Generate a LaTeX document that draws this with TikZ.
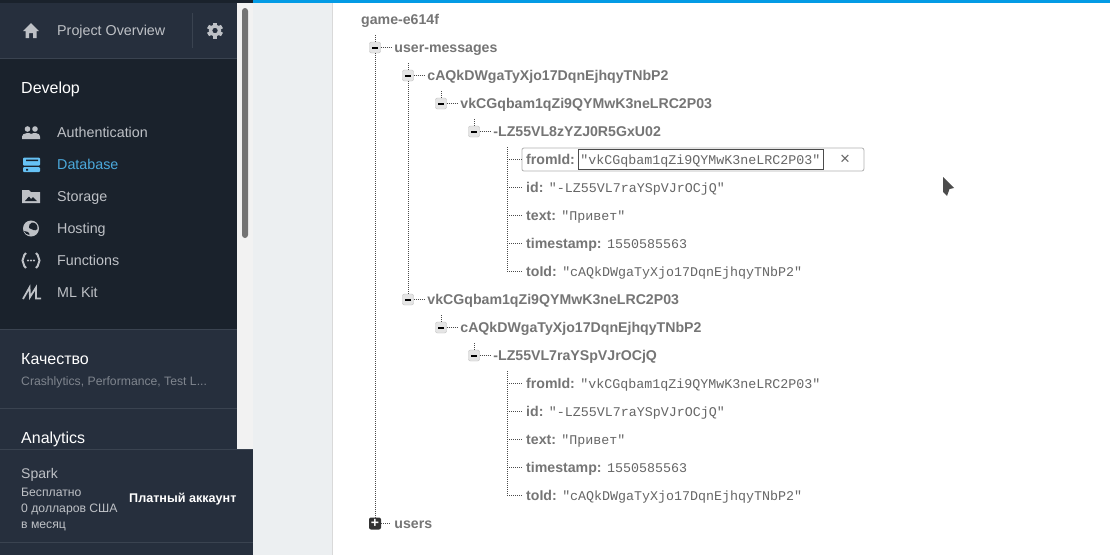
\documentclass[tikz,border=0pt]{standalone}
\usepackage{fontspec}
\setmainfont{Liberation Sans}
\setmonofont{Liberation Mono}
\usetikzlibrary{positioning}
\definecolor{sidedark}{HTML}{1A222C}
\definecolor{sidelight}{HTML}{262F3D}
\definecolor{sideline}{HTML}{3A4350}
\definecolor{sidetext}{HTML}{BEC1C6}
\definecolor{dimtext}{HTML}{7F858E}
\definecolor{dbblue}{HTML}{4BA9DC}
\definecolor{dbicon}{HTML}{66C2F5}
\definecolor{pagegray}{HTML}{ECEFF1}
\definecolor{keygray}{HTML}{757575}
\definecolor{valgray}{HTML}{666666}
\definecolor{treeline}{HTML}{4A4A4A}
\definecolor{topblue}{HTML}{039BE5}

\begin{document}
\begin{tikzpicture}[x=1pt,y=-1pt,
sideitem/.style ={anchor=west, inner sep=0pt, text height=12pt, text depth=2pt, text=sidetext, font=\fontsize{14.3}{16}\selectfont},
sidehead/.style ={anchor=west, inner sep=0pt, text height=12.5pt, text depth=2pt, text=white, font=\fontsize{16}{18}\selectfont},
sidesmall/.style ={anchor=west, inner sep=0pt, text height=11pt, text depth=2pt, text=sidetext, font=\fontsize{12.2}{14}\selectfont},
icon/.style ={fill=sidetext, draw=none},
expbox/.style ={rectangle, rounded corners=2pt, minimum size=11pt, inner sep=0pt, draw=black!25, fill=black!10},
plusbox/.style ={rectangle, rounded corners=2pt, minimum size=12pt, inner sep=0pt, fill=black!80, text=white, font=\fontsize{14}{14}\selectfont\bfseries},
keylbl/.style ={inner sep=0pt, text height=12.5pt, text depth=2pt, text=keygray, font=\fontsize{14.15}{16}\selectfont\bfseries},
vallbl/.style ={inner sep=0pt, text=valgray, font=\fontsize{13.33}{16}\selectfont\ttfamily},
tree/.style ={draw=treeline, line width=0.8pt, dash pattern=on 1pt off 1pt}]
\useasboundingbox (0,0) rectangle (1110,555);
% page and side bar
\fill[white] (0,0) rectangle (1110,555);
\fill[pagegray] (237,0) rectangle (332,555);
\fill[black!5] (237,0) rectangle (253,555);
\draw[black!15] (332,0) -- (332,555);
\fill[sidedark] (0,0) rectangle (237,555);
\fill[sidelight] (0,3) rectangle (237,58);
\fill[sidelight] (0,329) rectangle (237,450);
\fill[sidelight] (0,449) rectangle (253,555);
\draw[sideline] (0,58.5) -- (237,58.5);
\draw[sideline] (0,329) -- (237,329);
\draw[sideline] (0,408.5) -- (237,408.5);
\draw[sideline] (0,449.5) -- (253,449.5);
\draw[sideline] (0,542.5) -- (253,542.5);
\draw[sideline] (192.5,13) -- (192.5,48);
\fill[sidedark] (0,0) rectangle (253,3);
\fill[black!55, rounded corners=3pt] (242,8) rectangle (248,238);
\fill[topblue] (253,0) rectangle (1110,3);
% side bar texts
\node[sideitem] (overview) at (57,30.5) {Project Overview};
\node[sidehead] (develop) at (21,88.5) {Develop};
\node[sideitem] (auth) at (57,132.5) {Authentication};
\node[sideitem,text=dbblue] (database) at (57,164.5) {Database};
\node[sideitem] (storage) at (57,196.5) {Storage};
\node[sideitem] (hosting) at (57,228.5) {Hosting};
\node[sideitem] (functions) at (57,260.5) {Functions};
\node[sideitem] (mlkit) at (57,292.5) {ML Kit};
\node[sidehead] (quality) at (21,359.5) {Качество};
\node[sidesmall,text=dimtext] (crash) at (21,380.5) {Crashlytics, Performance, Test L...};
\node[sidehead] (analytics) at (21,438.5) {Analytics};
\node[sideitem,font=\fontsize{14}{16}\selectfont] (spark) at (21,473) {Spark};
\node[sidesmall] (free) at (21,491.5) {Бесплатно};
\node[sidesmall] (zero) at (21,507.5) {0 долларов США};
\node[sidesmall] (month) at (21,523.5) {в месяц};
\node[sidesmall,text=white,font=\fontsize{12.6}{14}\selectfont\bfseries] (paid) at (129,497.5) {Платный аккаунт};
% side bar icons
\fill[icon] (31,23) -- (39,31) -- (36.5,31) -- (36.5,38) -- (33,38) -- (33,33) -- (29,33) -- (29,38) -- (25.5,38) -- (25.5,31) -- (23,31) -- cycle;
\draw[sidetext,line width=3.2pt] (215,30.5) circle (4.5);
\foreach \a in {0,60,...,300} \fill[sidetext,rotate around={\a:(215,30.5)}] (213,22.5) rectangle (217,26);
\fill[icon] (27.5,129) circle (2.8) (35,129) circle (2.8);
\fill[icon] (22,139) -- (22,136.5) .. controls (22,132.5) and (31,132.5) .. (31,134) .. controls (33,132.5) and (40,132.5) .. (40,136.5) -- (40,139) -- cycle;
\fill[dbicon,rounded corners=1pt] (23,157.5) rectangle (40,165.5);
\fill[dbicon,rounded corners=1pt] (23,167) rectangle (40,172);
\fill[sidedark] (26,159.5) rectangle (38,161) (26,168.8) rectangle (28,170.5);
\fill[icon] (22,190) -- (29,190) -- (31,192) -- (40,192) -- (40,203) -- (22,203) -- cycle;
\fill[sidedark] (25,201) -- (29,196.5) -- (31,199) -- (33,197) -- (37,201) -- cycle;
\fill[icon] (31,228.5) circle (8);
\fill[sidedark] (32,222.5) .. controls (36,222) and (38,226) .. (37.5,229) .. controls (35,232) and (32,229) .. (29,228) .. controls (28,226) and (30,223) .. (32,222.5);
\fill[sidedark] (24,231) .. controls (26,231) and (30,232) .. (29.5,235) .. controls (27,235) and (25,233) .. (24,231);
\draw[sidetext,line width=2pt] (26,253) .. controls (22.5,256) and (24.5,258) .. (22.5,260.5) .. controls (24.5,263) and (22.5,265) .. (26,268);
\draw[sidetext,line width=2pt] (36,253) .. controls (39.5,256) and (37.5,258) .. (39.5,260.5) .. controls (37.5,263) and (39.5,265) .. (36,268);
\fill[icon] (28,260.5) circle (1.1) (31,260.5) circle (1.1) (34,260.5) circle (1.1);
\draw[sidetext,line width=1.8pt] (23,299) -- (29.5,287.5) -- (30,297) -- (36,287.5) -- (36,298.5) -- (41,298.5);
% tree nodes
\node[keylbl,anchor=west] (game) at (361,19.5) {game-e614f};
\node[expbox] (xa) at (375,47.5) {\rule{6pt}{2pt}};
\node[expbox,on grid,below right=28pt and 33pt of xa] (xb) {\rule{6pt}{2pt}};
\node[expbox,on grid,below right=28pt and 33pt of xb] (xc) {\rule{6pt}{2pt}};
\node[expbox,on grid,below right=28pt and 33pt of xc] (xd) {\rule{6pt}{2pt}};
\node[expbox,on grid,below=224pt of xb] (xe) {\rule{6pt}{2pt}};
\node[expbox,on grid,below right=28pt and 33pt of xe] (xf) {\rule{6pt}{2pt}};
\node[expbox,on grid,below right=28pt and 33pt of xf] (xg) {\rule{6pt}{2pt}};
\node[plusbox,on grid,below=476pt of xa] (xh) {+};
\node[keylbl,right=13.5pt of xa] (la) {user-messages};
\node[keylbl,right=13.5pt of xb] (lb) {cAQkDWgaTyXjo17DqnEjhqyTNbP2};
\node[keylbl,right=13.5pt of xc] (lc) {vkCGqbam1qZi9QYMwK3neLRC2P03};
\node[keylbl,right=13.5pt of xd] (ld) {-LZ55VL8zYZJ0R5GxU02};
\node[keylbl,right=13.5pt of xe] (le) {vkCGqbam1qZi9QYMwK3neLRC2P03};
\node[keylbl,right=13.5pt of xf] (lf) {cAQkDWgaTyXjo17DqnEjhqyTNbP2};
\node[keylbl,right=13.5pt of xg] (lg) {-LZ55VL7raYSpVJrOCjQ};
\node[keylbl,right=13pt of xh] (lh) {users};
% first message
\coordinate (ja) at (507,159.5);
\coordinate (jb) at (507,187.5);
\coordinate (jc) at (507,215.5);
\coordinate (jd) at (507,243.5);
\coordinate (je) at (507,271.5);
\node[keylbl,anchor=west] (ka) at (526,159.5) {fromId:};
\node[keylbl,anchor=west] (kb) at (526,187.5) {id:};
\node[keylbl,anchor=west] (kc) at (526,215.5) {text:};
\node[keylbl,anchor=west] (kd) at (526,243.5) {timestamp:};
\node[keylbl,anchor=west] (ke) at (526,271.5) {toId:};
\node[vallbl,right=5pt of ka.base east,anchor=base west] (va) {"vkCGqbam1qZi9QYMwK3neLRC2P03"};
\node[vallbl,right=5pt of kb.base east,anchor=base west] (vb) {"-LZ55VL7raYSpVJrOCjQ"};
\node[vallbl,right=5pt of kc.base east,anchor=base west] (vc) {"Привет"};
\node[vallbl,right=5pt of kd.base east,anchor=base west] (vd) {1550585563};
\node[vallbl,right=5pt of ke.base east,anchor=base west] (ve) {"cAQkDWgaTyXjo17DqnEjhqyTNbP2"};
% second message
\coordinate (jf) at (507,383.5);
\coordinate (jg) at (507,411.5);
\coordinate (jh) at (507,439.5);
\coordinate (ji) at (507,467.5);
\coordinate (jj) at (507,495.5);
\node[keylbl,anchor=west] (kf) at (526,383.5) {fromId:};
\node[keylbl,anchor=west] (kg) at (526,411.5) {id:};
\node[keylbl,anchor=west] (kh) at (526,439.5) {text:};
\node[keylbl,anchor=west] (ki) at (526,467.5) {timestamp:};
\node[keylbl,anchor=west] (kj) at (526,495.5) {toId:};
\node[vallbl,right=5pt of kf.base east,anchor=base west] (vf) {"vkCGqbam1qZi9QYMwK3neLRC2P03"};
\node[vallbl,right=5pt of kg.base east,anchor=base west] (vg) {"-LZ55VL7raYSpVJrOCjQ"};
\node[vallbl,right=5pt of kh.base east,anchor=base west] (vh) {"Привет"};
\node[vallbl,right=5pt of ki.base east,anchor=base west] (vi) {1550585563};
\node[vallbl,right=5pt of kj.base east,anchor=base west] (vj) {"cAQkDWgaTyXjo17DqnEjhqyTNbP2"};
% edit box on the first row
\node[rectangle,rounded corners=2pt,draw=black!30,line width=0.8pt,minimum width=342pt,minimum height=23pt,anchor=west] (editbox) at (521.5,159.5) {};
\node[rectangle,draw=black!70,line width=0.8pt,minimum width=245pt,minimum height=20pt,anchor=west] (inputbox) at (577.5,159.5) {};
\node[text=black!60,font=\fontsize{17}{17}\selectfont] (closex) at (845,159.5) {×};
% tree connectors
\coordinate (ta) at (375,35);
\coordinate (tb) at (408,63);
\coordinate (tc) at (441,91);
\coordinate (td) at (474,119);
\coordinate (te) at (507,147);
\coordinate (tf) at (441,315);
\coordinate (tg) at (474,343);
\coordinate (th) at (507,371);
\draw[tree] (ta) -- (xa);
\draw[tree] (xa) -- (xh);
\draw[tree] (tb) -- (xb);
\draw[tree] (xb) -- (xe);
\draw[tree] (tc) -- (xc);
\draw[tree] (td) -- (xd);
\draw[tree] (te) -- (je);
\draw[tree] (tf) -- (xf);
\draw[tree] (tg) -- (xg);
\draw[tree] (th) -- (jj);
\draw[tree,shorten >=3pt] (xa) -- (la);
\draw[tree,shorten >=3pt] (xb) -- (lb);
\draw[tree,shorten >=3pt] (xc) -- (lc);
\draw[tree,shorten >=3pt] (xd) -- (ld);
\draw[tree,shorten >=3pt] (xe) -- (le);
\draw[tree,shorten >=3pt] (xf) -- (lf);
\draw[tree,shorten >=3pt] (xg) -- (lg);
\draw[tree,shorten >=3pt] (xh) -- (lh);
\draw[tree] (ja) -- (editbox);
\draw[tree,shorten >=3pt] (jb) -- (kb);
\draw[tree,shorten >=3pt] (jc) -- (kc);
\draw[tree,shorten >=3pt] (jd) -- (kd);
\draw[tree,shorten >=3pt] (je) -- (ke);
\draw[tree,shorten >=3pt] (jf) -- (kf);
\draw[tree,shorten >=3pt] (jg) -- (kg);
\draw[tree,shorten >=3pt] (jh) -- (kh);
\draw[tree,shorten >=3pt] (ji) -- (ki);
\draw[tree,shorten >=3pt] (jj) -- (kj);
% pointer
\fill[black!70] (943,177) -- (954,188) -- (949.5,189) -- (947,196) -- (943,192) -- cycle;
\end{tikzpicture}
\end{document}
